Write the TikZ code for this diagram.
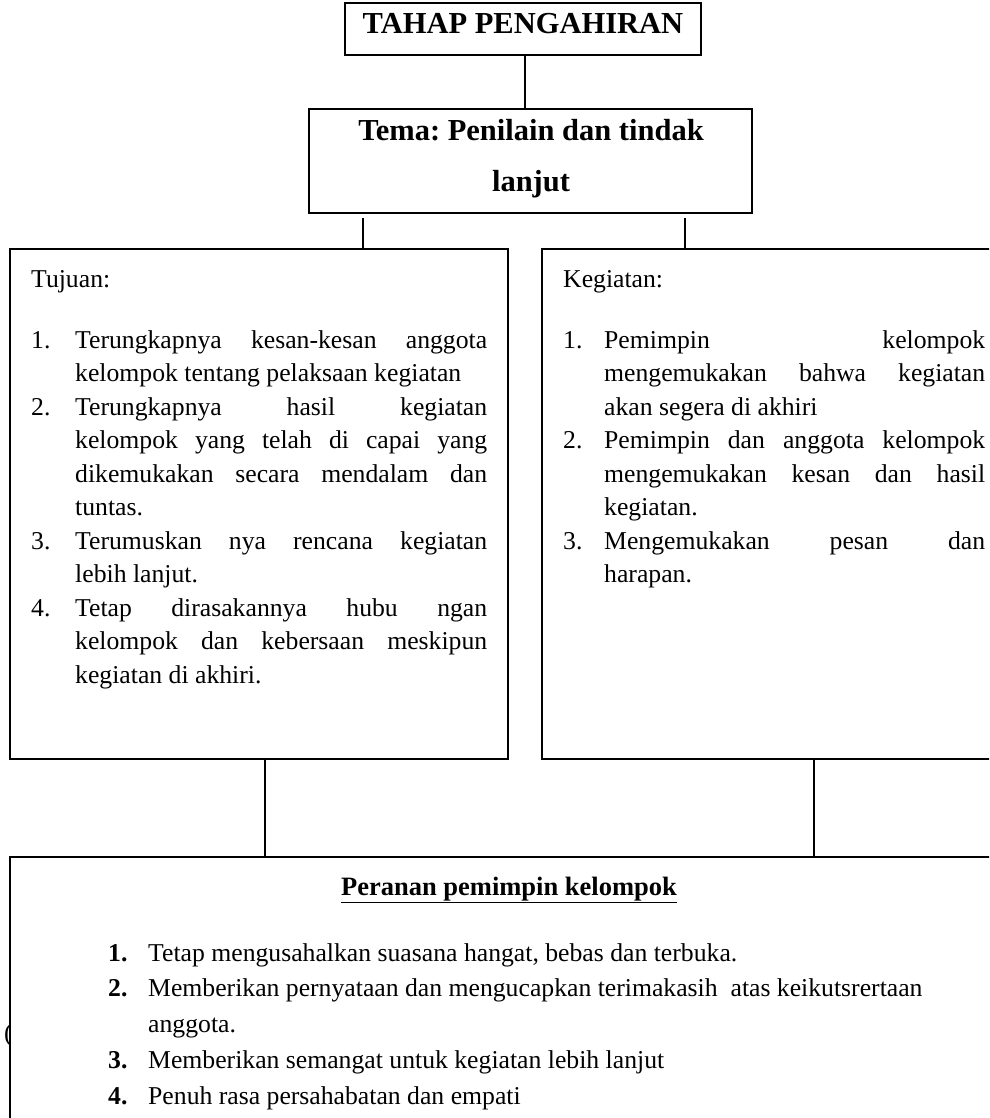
\documentclass[tikz,border=0pt]{standalone}
\usepackage{fontspec}
\setmainfont{Liberation Serif}
\frenchspacing
\newcommand{\jline}[2]{\makebox[#1][s]{#2}}
\newcommand{\bodyfont}{\fontsize{25.7}{33.5}\selectfont}
\newcommand{\headfont}{\fontsize{30.5}{51}\selectfont\bfseries}
\begin{document}
\begin{tikzpicture}[x=1pt,y=-1pt,
  box/.style={draw, line width=1.6pt, inner sep=0pt},
  conn/.style={line width=1.4pt},
  txt/.style={inner sep=0pt, anchor=base west, font=\bodyfont},
  ]
\useasboundingbox (0,0) rectangle (989,1118);
\fill[white] (0,0) rectangle (989,1118);
\begin{scope}
\clip (0,0) rectangle (989,1118);
% boxes
\node[box, minimum width=356pt, minimum height=52pt] (top) at (523,29) {};
\node[box, minimum width=443pt, minimum height=104pt] (tema) at (530.5,161) {};
\node[box, minimum width=498pt, minimum height=510pt] (tuj) at (259,504) {};
\node[box, minimum width=458pt, minimum height=510pt] (keg) at (771,504) {};
\node[box, fill=white, minimum width=990pt, minimum height=273pt] (bot) at (505,993.5) {};
% stray parenthesis at the lower left, partly hidden by the box edge
\begin{scope}
\clip (0,0) rectangle (9.5,1118);
\node[inner sep=0pt, anchor=base east, font=\bodyfont] (paren) at (13,1041) {(};
\end{scope}
% texts
\node[inner sep=0pt, anchor=base, font=\headfont] (toptxt) at (523,34) {TAHAP PENGAHIRAN};
\node[inner sep=0pt, anchor=base, font=\headfont] (tematxt) at (531,141)
  {\parbox[t]{443pt}{\centering Tema: Penilain dan tindak\\ lanjut}};
\node[txt] (tujtxt) at (31,287) {\parbox[t]{470pt}{\bodyfont
Tujuan:\\[27.5pt]
\makebox[44pt][l]{1.}\jline{412pt}{Terungkapnya kesan-kesan anggota}\\
\hspace*{44pt}kelompok tentang pelaksaan kegiatan\\
\makebox[44pt][l]{2.}\jline{412pt}{Terungkapnya hasil kegiatan}\\
\hspace*{44pt}\jline{412pt}{kelompok yang telah di capai yang}\\
\hspace*{44pt}\jline{412pt}{dikemukakan secara mendalam dan}\\
\hspace*{44pt}tuntas.\\
\makebox[44pt][l]{3.}\jline{412pt}{Terumuskan nya rencana kegiatan}\\
\hspace*{44pt}lebih lanjut.\\
\makebox[44pt][l]{4.}\jline{412pt}{Tetap dirasakannya hubu ngan}\\
\hspace*{44pt}\jline{412pt}{kelompok dan kebersaan meskipun}\\
\hspace*{44pt}kegiatan di akhiri.}};
\node[txt] (kegtxt) at (563,287) {\parbox[t]{430pt}{\bodyfont
Kegiatan:\\[27.5pt]
\makebox[41pt][l]{1.}\jline{381pt}{Pemimpin kelompok}\\
\hspace*{41pt}\jline{381pt}{mengemukakan bahwa kegiatan}\\
\hspace*{41pt}akan segera di akhiri\\
\makebox[41pt][l]{2.}\jline{381pt}{Pemimpin dan anggota kelompok}\\
\hspace*{41pt}\jline{381pt}{mengemukakan kesan dan hasil}\\
\hspace*{41pt}kegiatan.\\
\makebox[41pt][l]{3.}\jline{381pt}{Mengemukakan pesan dan}\\
\hspace*{41pt}harapan.}};
\node[inner sep=0pt, anchor=base, font=\fontsize{26.5}{33}\selectfont\bfseries] (bottitle) at (509,895)
  {\underline{Peranan pemimpin kelompok}};
\node[txt] (bottxt) at (108,961) {\parbox[t]{870pt}{\fontsize{25.7}{35.8}\selectfont
\makebox[40pt][l]{\textbf{1.}}Tetap mengusahalkan suasana hangat, bebas dan terbuka.\\
\makebox[40pt][l]{\textbf{2.}}Memberikan pernyataan dan mengucapkan terimakasih~ atas keikutsrertaan\\
\hspace*{40pt}anggota.\\
\makebox[40pt][l]{\textbf{3.}}Memberikan semangat untuk kegiatan lebih lanjut\\
\makebox[40pt][l]{\textbf{4.}}Penuh rasa persahabatan dan empati}};
% connectors
\coordinate (c0) at (525,80);
\coordinate (c1) at (363,218);
\coordinate (c2) at (685,218);
\coordinate (c3) at (265,800);
\coordinate (c4) at (814,800);
\draw[conn] (c0 |- top.south) -- (c0 |- tema.north);
\draw[conn] (c1) -- (c1 |- tuj.north);
\draw[conn] (c2) -- (c2 |- keg.north);
\draw[conn] (c3 |- tuj.south) -- (c3 |- bot.north);
\draw[conn] (c4 |- keg.south) -- (c4 |- bot.north);
\end{scope}
\end{tikzpicture}
\end{document}
